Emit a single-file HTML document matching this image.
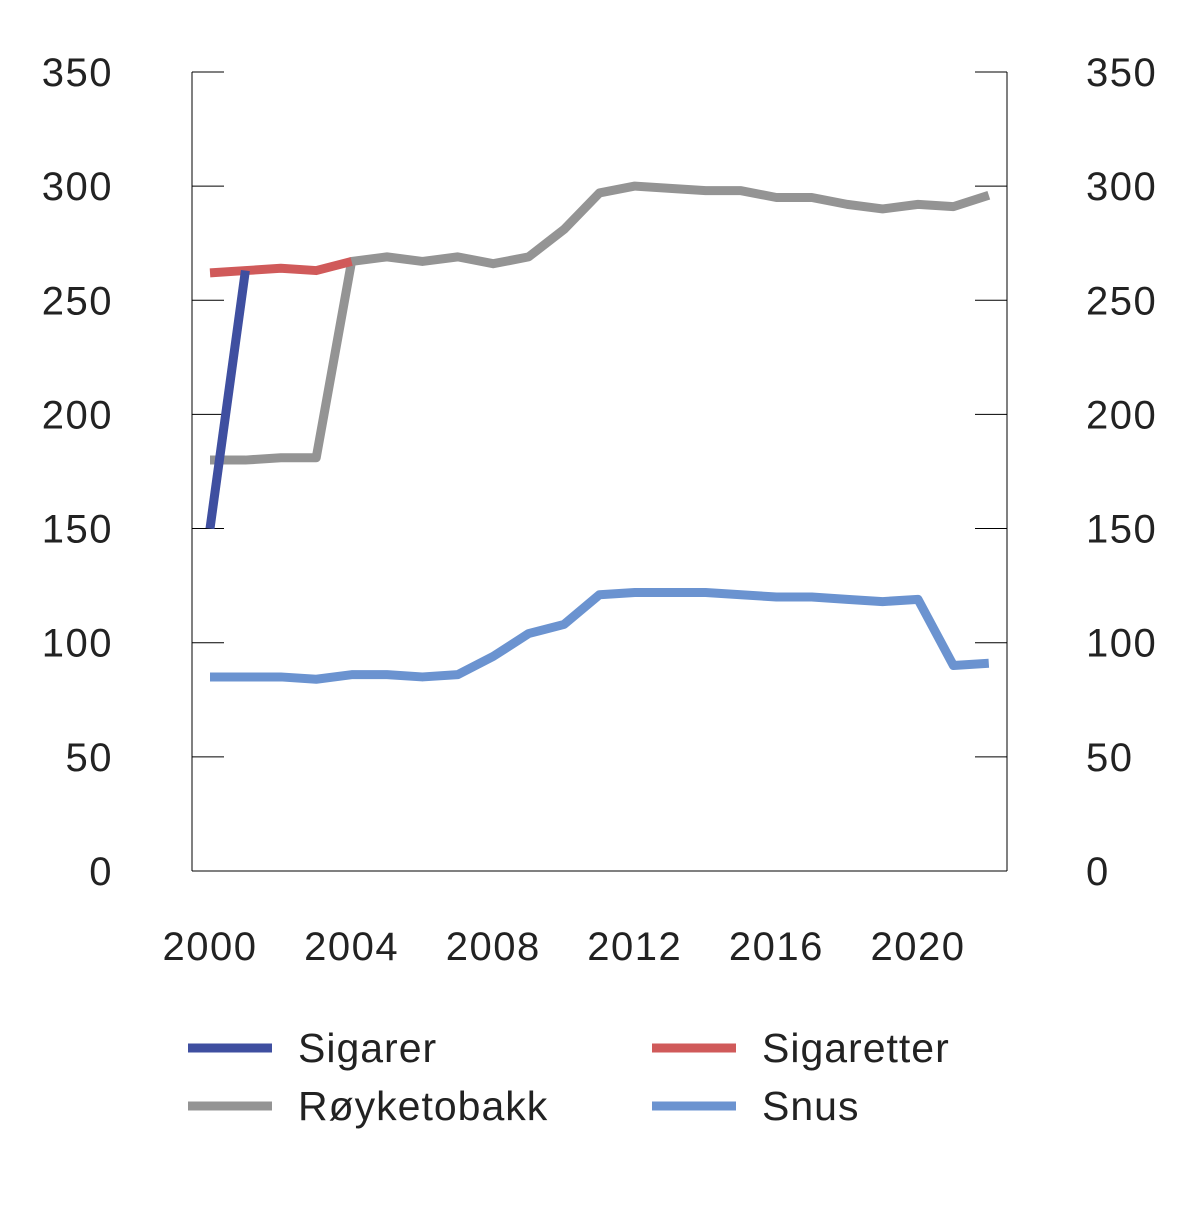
<!DOCTYPE html>
<html><head><meta charset="utf-8"><style>
body{margin:0;background:#fff}
svg text{font-family:"Liberation Sans",sans-serif;fill:#222}
</style></head><body>
<svg id="chart" width="1200" height="1215" xmlns="http://www.w3.org/2000/svg">
<g id="axes"></g><g id="series"></g><g id="legend"></g>
</svg>
<script>
const years=[2000,2001,2002,2003,2004,2005,2006,2007,2008,2009,2010,2011,2012,2013,2014,2015,2016,2017,2018,2019,2020,2021,2022];
const sigarer=[150,263];
const sigaretter=[262,263,264,263,267];
const royketobakk=[180,180,181,181,267,269,267,269,266,269,281,297,300,299,298,298,295,295,292,290,292,291,296];
const snus=[85,85,85,84,86,86,85,86,94,104,108,121,122,122,122,121,120,120,119,118,119,90,91];
const yTicks=[0,50,100,150,200,250,300,350];
const xTicks=[2000,2004,2008,2012,2016,2020];
const NS="http://www.w3.org/2000/svg";
const X=y=>210+(y-2000)*35.4;
const Y=v=>871-v*2.283;
function mk(tag,attrs,parent){const e=document.createElementNS(NS,tag);for(const k in attrs)e.setAttribute(k,attrs[k]);parent.appendChild(e);return e;}
const ax=document.getElementById('axes');
let l=mk('line',{x1:192,y1:72,x2:192,y2:871,stroke:'#000','stroke-width':1},ax);


l=mk('line',{x1:1007,y1:72,x2:1007,y2:871,stroke:'#000','stroke-width':1},ax);


l=mk('line',{x1:192,y1:871,x2:1007,y2:871,stroke:'#000','stroke-width':1},ax);


yTicks.forEach(v=>{
  const y=Y(v);
  if(v>0){
    let t=mk('line',{x1:192,y1:y,x2:224,y2:y,stroke:'#000'},ax);
    
    
    t=mk('line',{x1:975,y1:y,x2:1007,y2:y,stroke:'#000'},ax);
    
    
  }
  let a=mk('text',{x:113,y:y+14,'text-anchor':'end','font-size':40,'letter-spacing':1.5},ax);a.textContent=v;
  
  
  let b=mk('text',{x:1086,y:y+14,'font-size':40,'letter-spacing':1.5},ax);b.textContent=v;
  
  
});
xTicks.forEach(yr=>{
  let t=mk('text',{x:X(yr),y:960,'text-anchor':'middle','font-size':40,'letter-spacing':1.5},ax);t.textContent=yr;
  
  
});
const sg=document.getElementById('series');
function line(vals,color,name){
  const pts=vals.map((v,i)=>X(years[i])+','+Y(v)).join(' ');
  const p=mk('polyline',{points:pts,fill:'none',stroke:color,'stroke-width':9,'stroke-linejoin':'round'},sg);
  
  
}
line(royketobakk,'#949494','royketobakk-line');
line(snus,'#6b93d0','snus-line');
line(sigaretter,'#d05a5a','sigaretter-line');
line(sigarer,'#3f4fa0','sigarer-line');
const lg=document.getElementById('legend');
[['Sigarer','#3f4fa0',188,1048],['Sigaretter','#d05a5a',652,1048],['Røyketobakk','#949494',188,1106],['Snus','#6b93d0',652,1106]].forEach(([n,c,x,y])=>{
  const s=mk('line',{x1:x,y1:y,x2:x+84,y2:y,stroke:c,'stroke-width':9},lg);
  
  
  const t=mk('text',{x:x+110,y:y+14,'font-size':41,'letter-spacing':1},lg);t.textContent=n;
  
  
});
</script>
</body></html>
